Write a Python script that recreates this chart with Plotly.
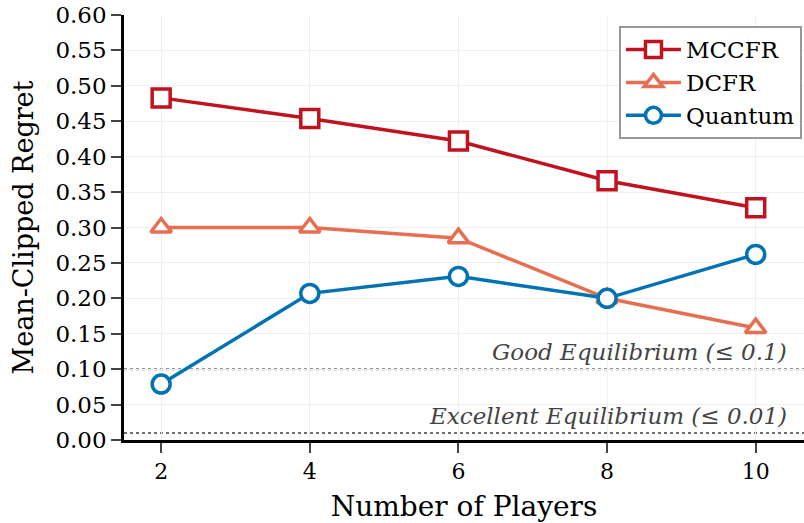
import plotly.graph_objects as go

players = [2, 4, 6, 8, 10]
mccfr = [0.483, 0.454, 0.422, 0.366, 0.328]
dcfr = [0.300, 0.300, 0.285, 0.200, 0.158]
quantum = [0.079, 0.207, 0.231, 0.200, 0.262]
y_ticks = [0.0, 0.05, 0.10, 0.15, 0.20, 0.25, 0.30, 0.35, 0.40, 0.45, 0.50, 0.55, 0.60]
thresholds = [0.1, 0.01]
threshold_labels = ["Good Equilibrium (≤ 0.1)", "Excellent Equilibrium (≤ 0.01)"]

FONT = "DejaVu Serif"
fig = go.Figure()

series = [
    ("MCCFR", mccfr, "#c1121f", "square"),
    ("DCFR", dcfr, "#e76f51", "triangle-up"),
    ("Quantum", quantum, "#0173b2", "circle"),
]
for name, vals, col, sym in series:
    fig.add_trace(go.Scatter(
        x=players, y=vals, name=name, mode="lines+markers",
        line=dict(color=col, width=3.5),
        marker=dict(symbol=sym, size=18, color="white",
                    line=dict(color=col, width=3.5)),
    ))

for t, lab in zip(thresholds, threshold_labels):
    fig.add_shape(type="line", xref="paper", x0=0, x1=1, y0=t, y1=t,
                  line=dict(color="#6f6f6f", width=2, dash="dot"), layer="below")
    fig.add_annotation(xref="paper", x=0.978, y=t, yshift=2, text=f"<i>{lab}</i>",
                       showarrow=False, xanchor="right", yanchor="bottom",
                       font=dict(family=FONT, size=23, color="#444444"))

fig.update_layout(
    width=804, height=523,
    margin=dict(l=124, r=0, t=15, b=83),
    paper_bgcolor="white", plot_bgcolor="white",
    font=dict(family=FONT, size=22, color="black"),
    showlegend=True,
    legend=dict(x=0.997, y=0.974, xanchor="right", yanchor="top",
                bordercolor="#999999", borderwidth=2, bgcolor="white",
                font=dict(family=FONT, size=23), tracegroupgap=0, itemwidth=55),
    xaxis=dict(range=[1.5, 10.65], tickvals=players, ticks="outside", ticklen=10, tickwidth=2,
               showline=True, linecolor="black", linewidth=2.5, showgrid=True,
               gridcolor="#efefef", gridwidth=1, zeroline=False,
               title=dict(text="Number of Players", font=dict(family=FONT, size=28), standoff=14),
               tickfont=dict(family=FONT, size=22)),
    yaxis=dict(range=[0, 0.6], tickvals=y_ticks, tickformat=".2f", ticks="outside", ticklen=10,
               tickwidth=2, showline=True, linecolor="black", linewidth=2.5, showgrid=True,
               gridcolor="#efefef", gridwidth=1, zeroline=False,
               title=dict(text="Mean-Clipped Regret", font=dict(family=FONT, size=27), standoff=14),
               tickfont=dict(family=FONT, size=23)),
)

fig.write_html("out.html", config={"displayModeBar": False},
               post_script="document.body.style.margin='0';")
